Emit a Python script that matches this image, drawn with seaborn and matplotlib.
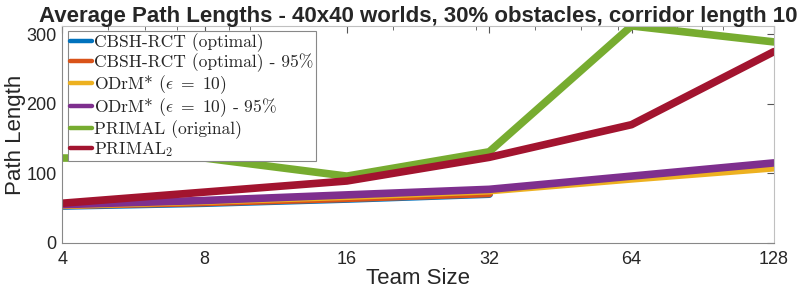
import numpy as np
import pandas as pd
import matplotlib.pyplot as plt
import matplotlib.ticker as mticker
import seaborn as sns

team_sizes = [4, 8, 16, 32, 64, 128]
cbsh = [53, 57, 63, 70]
cbsh_95 = [54, 58, 64, 71]
odrm = [54, 60, 67, 75, 92, 108]
odrm_95 = [55, 61, 69, 77, 96, 115]
primal = [122, 122, 96, 131, 312, 289]
primal2 = [57, 73, 89, 123, 170, 275]

labels = ['CBSH-RCT (optimal)', 'CBSH-RCT (optimal) - 95%',
          r'ODrM* ($\epsilon\ =\ 10$)', r'ODrM* ($\epsilon\ =\ 10$) - 95%',
          'PRIMAL (original)', r'PRIMAL$_2$']
colors = ['#0072BD', '#D95319', '#EDB120', '#7E2F8E', '#77AC30', '#A2142F']
series = [cbsh, cbsh_95, odrm, odrm_95, primal, primal2]

rows = []
for lab, vals in zip(labels, series):
    for x, v in zip(team_sizes, vals):
        rows.append({'team': x, 'length': v, 'method': lab})
df = pd.DataFrame(rows)

sns.set_style('white')
plt.rcParams['font.family'] = ['Liberation Sans', 'DejaVu Sans']
plt.rcParams['mathtext.fontset'] = 'cm'

fig = plt.figure(figsize=(7.97, 2.98), dpi=100)
ax = fig.add_axes([0.078, 0.185, 0.893, 0.728])

sns.lineplot(data=df, x='team', y='length', hue='method', hue_order=labels,
             palette=colors, linewidth=5.5, ax=ax, legend=False)

ax.set_xscale('log', base=2)
ax.set_xlim(4, 128)
ax.set_ylim(0, 312)
ax.set_xticks(team_sizes)
ax.xaxis.set_major_formatter(mticker.FixedFormatter([str(t) for t in team_sizes]))
ax.xaxis.set_minor_locator(mticker.FixedLocator([5, 6, 7, 9, 10, 20, 30, 40, 50, 60, 70, 80, 90, 100]))
ax.xaxis.set_minor_formatter(mticker.NullFormatter())
ax.set_yticks([0, 100, 200, 300])

ax.tick_params(which='both', direction='in', top=True, right=True, colors='#555555',
               labelcolor='#262626', labelsize=13)
ax.tick_params(which='major', length=5, width=0.8)
ax.tick_params(which='minor', length=3, width=0.6)
ax.tick_params(axis='x', pad=6)
ax.tick_params(axis='y', pad=4)
for s in ['left', 'bottom']:
    ax.spines[s].set_color('#888888')
for s in ['top', 'right']:
    ax.spines[s].set_color('#c0c0c0')

ax.set_title('Average Path Lengths - 40x40 worlds, 30% obstacles, corridor length 10',
             fontsize=16, fontweight='bold', pad=3)
ax.set_xlabel('Team Size', fontsize=16, labelpad=0)
ax.set_ylabel('Path Length', fontsize=16, labelpad=0)

handles = [plt.Line2D([], [], color=c, lw=3.2) for c in colors]
leg = ax.legend(handles, labels, loc='upper left', bbox_to_anchor=(0.008, 0.975),
                prop={'family': 'cmr10', 'size': 12.6}, frameon=True, fancybox=False,
                edgecolor='#888888', framealpha=1, handlelength=1.25, handletextpad=0.15,
                labelspacing=0.06, borderpad=0.12, borderaxespad=0)
leg.get_frame().set_linewidth(0.8)

fig.savefig('out.png', dpi=100)
